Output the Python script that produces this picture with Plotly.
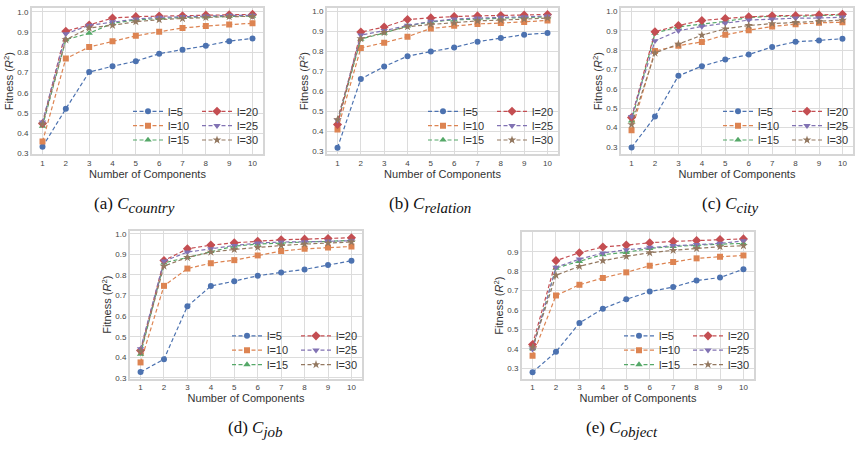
import plotly.graph_objects as go

components = [1, 2, 3, 4, 5, 6, 7, 8, 9, 10]
series_names = ["l=5", "l=10", "l=15", "l=20", "l=25", "l=30"]

# Fitness (R^2) per panel, one row per series in series_names order
fit_country = [
    [0.333, 0.521, 0.702, 0.731, 0.756, 0.793, 0.813, 0.832, 0.855, 0.868],
    [0.359, 0.769, 0.826, 0.855, 0.881, 0.901, 0.920, 0.930, 0.937, 0.943],
    [0.435, 0.862, 0.894, 0.943, 0.960, 0.967, 0.972, 0.975, 0.977, 0.979],
    [0.448, 0.904, 0.935, 0.969, 0.976, 0.979, 0.980, 0.984, 0.985, 0.987],
    [0.455, 0.891, 0.933, 0.950, 0.964, 0.972, 0.976, 0.979, 0.982, 0.982],
    [0.445, 0.862, 0.920, 0.933, 0.951, 0.961, 0.967, 0.972, 0.976, 0.977],
]
fit_relation = [
    [0.317, 0.662, 0.724, 0.776, 0.799, 0.820, 0.849, 0.867, 0.884, 0.892],
    [0.408, 0.817, 0.844, 0.874, 0.915, 0.928, 0.938, 0.942, 0.948, 0.955],
    [0.440, 0.862, 0.892, 0.928, 0.948, 0.958, 0.962, 0.967, 0.970, 0.973],
    [0.433, 0.897, 0.922, 0.960, 0.968, 0.975, 0.978, 0.980, 0.982, 0.985],
    [0.455, 0.882, 0.904, 0.930, 0.950, 0.962, 0.967, 0.970, 0.973, 0.977],
    [0.458, 0.864, 0.895, 0.924, 0.935, 0.943, 0.953, 0.957, 0.962, 0.967],
]
fit_city = [
    [0.297, 0.457, 0.668, 0.718, 0.752, 0.778, 0.817, 0.844, 0.851, 0.860],
    [0.386, 0.796, 0.824, 0.843, 0.880, 0.904, 0.923, 0.935, 0.942, 0.945],
    [0.435, 0.889, 0.921, 0.935, 0.949, 0.969, 0.976, 0.976, 0.979, 0.983],
    [0.452, 0.896, 0.928, 0.954, 0.964, 0.973, 0.978, 0.979, 0.983, 0.986],
    [0.457, 0.849, 0.901, 0.923, 0.940, 0.956, 0.961, 0.966, 0.967, 0.971],
    [0.416, 0.786, 0.832, 0.878, 0.911, 0.928, 0.938, 0.944, 0.949, 0.956],
]
fit_job = [
    [0.328, 0.391, 0.648, 0.746, 0.770, 0.796, 0.812, 0.827, 0.848, 0.869],
    [0.375, 0.747, 0.831, 0.857, 0.872, 0.895, 0.916, 0.927, 0.934, 0.938],
    [0.415, 0.859, 0.885, 0.914, 0.940, 0.950, 0.956, 0.960, 0.963, 0.968],
    [0.433, 0.870, 0.927, 0.945, 0.956, 0.964, 0.971, 0.974, 0.977, 0.981],
    [0.441, 0.867, 0.911, 0.927, 0.943, 0.955, 0.960, 0.961, 0.964, 0.966],
    [0.428, 0.843, 0.885, 0.911, 0.924, 0.934, 0.943, 0.950, 0.955, 0.960],
]
fit_object = [
    [0.280, 0.385, 0.533, 0.607, 0.655, 0.695, 0.718, 0.752, 0.767, 0.810],
    [0.365, 0.675, 0.730, 0.765, 0.794, 0.828, 0.847, 0.866, 0.874, 0.881],
    [0.402, 0.816, 0.851, 0.885, 0.897, 0.917, 0.927, 0.934, 0.939, 0.943],
    [0.423, 0.854, 0.895, 0.924, 0.934, 0.946, 0.953, 0.958, 0.963, 0.966],
    [0.399, 0.820, 0.862, 0.893, 0.910, 0.922, 0.931, 0.936, 0.943, 0.956],
    [0.407, 0.779, 0.825, 0.854, 0.876, 0.895, 0.907, 0.917, 0.926, 0.931],
]
panel_data = [fit_country, fit_relation, fit_city, fit_job, fit_object]
panel_letters = ["(a)", "(b)", "(c)", "(d)", "(e)"]
panel_subs = ["country", "relation", "city", "job", "object"]

colors = ["#4C72B0", "#DD8452", "#55A868", "#C44E52", "#8172B3", "#937860"]
symbols = ["circle", "square", "triangle-up", "diamond", "triangle-down", "star"]
msizes = [6, 6, 6.5, 7, 6.5, 6.5]

W, H = 860, 464
# plot areas in pixels: (left, right, top, bottom)
boxes = [
    (32, 263, 7, 155),
    (327, 558, 7, 155),
    (621, 853, 7, 155),
    (130, 362, 232, 382),
    (522, 754, 234, 382),
]
yranges = [[0.296, 1.019], [0.284, 1.018], [0.262, 1.019], [0.295, 1.016], [0.246, 0.999]]
captions_xy = [(134, 206), (430, 206), (730, 206), (255, 433), (622, 433)]

FONT = "Liberation Sans"
fig = go.Figure()
layout = dict(
    width=W, height=H, margin=dict(l=0, r=0, t=0, b=0),
    paper_bgcolor="white", plot_bgcolor="white", showlegend=True,
    font=dict(family=FONT, color="#333333"),
)
annotations = []

for p in range(5):
    suffix = "" if p == 0 else str(p + 1)
    L, R, T, B = boxes[p]
    xd = [L / W, R / W]
    yd = [1 - B / H, 1 - T / H]
    common = dict(
        showgrid=True, gridcolor="#dcdcdc", gridwidth=1,
        showline=True, linecolor="#d6d6d6", linewidth=2, mirror=True,
        zeroline=False, ticks="", tickfont=dict(family=FONT, size=8, color="#444444"),
    )
    layout["xaxis" + suffix] = dict(
        domain=xd, range=[0.55, 10.45], tickvals=components, anchor="y" + suffix,
        title=dict(text="Number of Components", font=dict(family=FONT, size=11, color="#333333"), standoff=0),
        **common,
    )
    layout["yaxis" + suffix] = dict(
        domain=yd, range=yranges[p], dtick=0.1, tick0=0, tickformat=".1f", anchor="x" + suffix,
        title=dict(text="Fitness (<i>R</i><sup>2</sup>)", font=dict(family=FONT, size=11, color="#333333"), standoff=1),
        **common,
    )
    rows = panel_data[p]
    for s in range(6):
        col, row = divmod(s, 3)
        k = 6 * p + s + 1
        lname = "legend" if k == 1 else "legend" + str(k)
        text_x = R - 97 if col == 0 else R - 28
        row_y = B - 43.5 + 14.5 * row
        layout[lname] = dict(
            x=(text_x - 38) / W, xanchor="left",
            y=1 - row_y / H, yanchor="middle",
            bgcolor="rgba(0,0,0,0)", borderwidth=0,
            font=dict(family=FONT, size=11, color="#333333"),
            itemclick=False, itemdoubleclick=False,
        )
        fig.add_trace(go.Scatter(
            x=components, y=rows[s], name=series_names[s], mode="lines+markers",
            xaxis="x" + suffix, yaxis="y" + suffix, legend=lname,
            line=dict(color=colors[s], width=1.2, dash="4px,2.5px"),
            marker=dict(symbol=symbols[s], size=msizes[s], color=colors[s]),
            showlegend=True,
        ))
    cx, cy = captions_xy[p]
    annotations.append(dict(
        x=cx / W, y=1 - cy / H, xref="paper", yref="paper", showarrow=False,
        xanchor="center", yanchor="middle",
        text=(panel_letters[p] + " <i>C</i><sub><i><span style='font-size:15px'>"
              + panel_subs[p] + "</span></i></sub>"),
        font=dict(family="Liberation Serif", size=17, color="#111111"),
    ))

layout["annotations"] = annotations
fig.update_layout(**layout)
fig.write_html("out.html")
